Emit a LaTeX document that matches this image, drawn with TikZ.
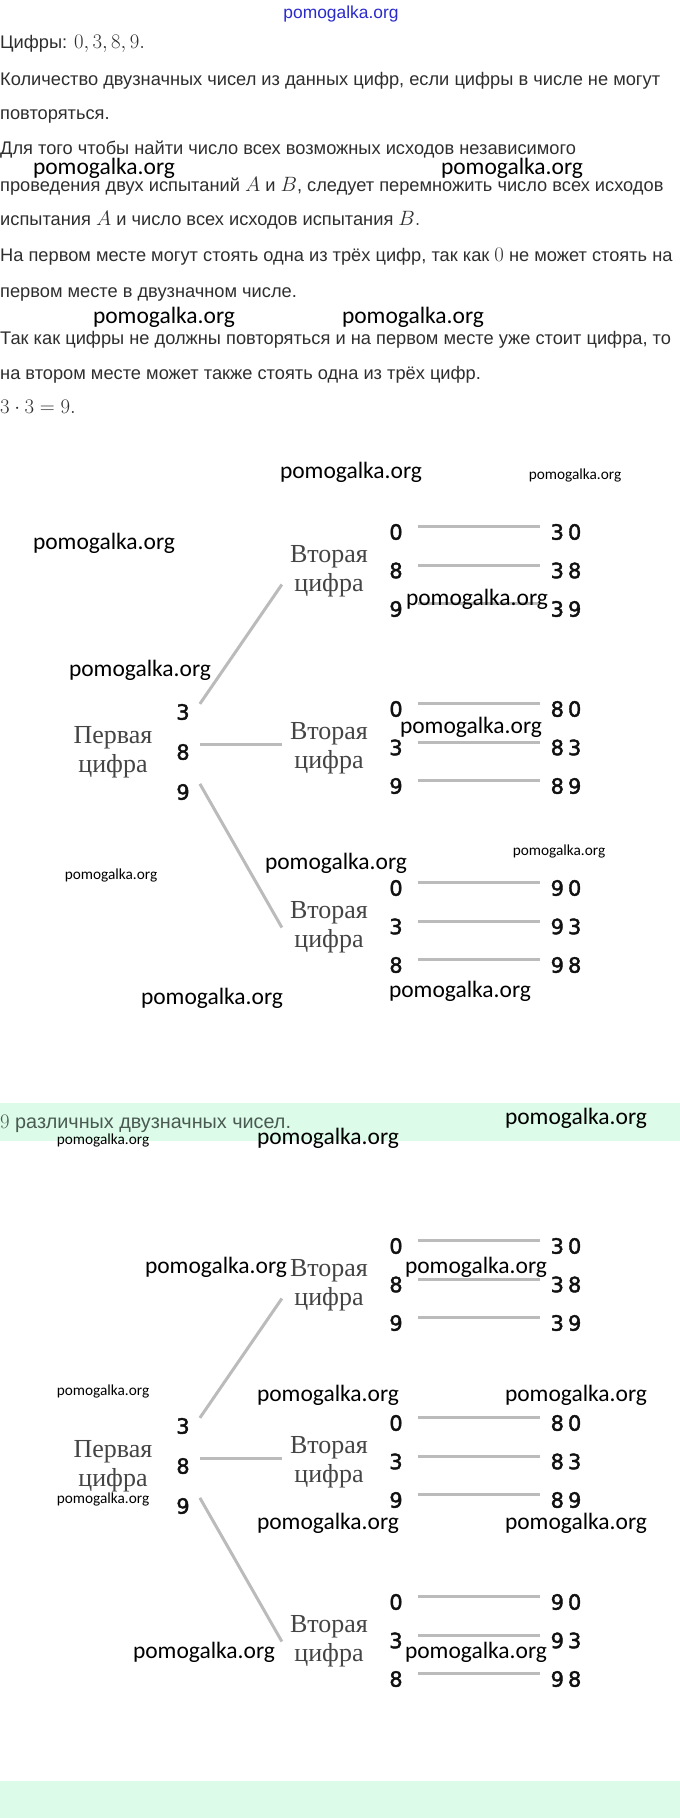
\documentclass[tikz,border=0pt]{standalone}
\usepackage{fontspec}
\setmainfont{Liberation Sans}
\newfontfamily\digitfont[FakeBold=2]{DejaVu Sans}
\newfontfamily\wmfont{Carlito}
\newfontfamily\levelfont{Liberation Serif}
\usetikzlibrary{positioning, calc}

\definecolor{bodygray}{HTML}{2E2E2E}
\definecolor{bandtext}{HTML}{4A5A52}
\definecolor{bandfill}{HTML}{DCFCE9}
\definecolor{linegray}{HTML}{BBBBBB}
\definecolor{labelgray}{HTML}{444444}
\definecolor{digitblack}{HTML}{111111}
\definecolor{wmblue}{HTML}{2A2ACC}

\newcommand{\mth}[1]{{\fontsize{21.8}{24}\selectfont$#1$}}

\tikzset{
  textline/.style = {anchor = base west, inner sep = 0pt, text = bodygray, font = \fontsize{18.25}{22}\selectfont},
  wmark/.style = {inner sep = 0pt, font = \wmfont\fontsize{23.5}{26}\selectfont},
  wmarksmall/.style = {inner sep = 0pt, font = \wmfont\fontsize{15.3}{17}\selectfont},
  digit/.style = {inner sep = 0pt, text = digitblack, font = \digitfont\fontsize{21}{24}\selectfont},
  level/.style = {inner sep = 0pt, align = center, text = labelgray, font = \levelfont\fontsize{26}{29}\selectfont},
  branch/.style = {draw = linegray, line width = 3pt},
}

\begin{document}
\begin{tikzpicture}[x = 1pt, y = -1pt]
  \useasboundingbox (0, 0) rectangle (680, 1818);
  \fill [bandfill] (0, 1103) rectangle (680, 1141);
  \fill [bandfill] (0, 1781) rectangle (680, 1818);

  % solution text
  \node [textline] (t1) at (0, 48) {Цифры: \mth{0, 3, 8, 9.}};
  \node [textline] (t2) at (0, 85) {Количество двузначных чисел из данных цифр, если цифры в числе не могут};
  \node [textline] (t3) at (0, 119) {повторяться.};
  \node [textline] (t4) at (0, 154) {Для того чтобы найти число всех возможных исходов независимого};
  \node [textline] (t5) at (0, 191) {проведения двух испытаний \mth{A} и \mth{B}, следует перемножить число всех исходов};
  \node [textline] (t6) at (0, 225) {испытания \mth{A} и число всех исходов испытания \mth{B.}};
  \node [textline] (t7) at (0, 261) {На первом месте могут стоять одна из трёх цифр, так как \mth{0} не может стоять на};
  \node [textline] (t8) at (0, 297) {первом месте в двузначном числе.};
  \node [textline] (t9) at (0, 344) {Так как цифры не должны повторяться и на первом месте уже стоит цифра, то};
  \node [textline] (t10) at (0, 379) {на втором месте может также стоять одна из трёх цифр.};
  \node [textline] (t11) at (0, 413) {\mth{3\cdot 3=9.}};
  \node [textline, text = bandtext, font = \fontsize{19.8}{22}\selectfont] (answer) at (0, 1128) {\mth{9} различных двузначных чисел.};

  % two copies of the tree
  \foreach \oy/\dg in {0/a, 714/b} {
    \node [level] (first\dg) at (113, 752+\oy) {Первая\\цифра};
    \node [digit] (f3\dg) at (183, 712+\oy) {3};
    \node [digit] (f8\dg) at (183, 752+\oy) {8};
    \node [digit] (f9\dg) at (183, 792+\oy) {9};
    \foreach \f/\list/\top in {3/{0,8,9}/532, 8/{0,3,9}/709, 9/{0,3,8}/888} {
      \node [level] (s\f\dg) at (329, {\top+39.5+\oy}) {Вторая\\цифра};
      \foreach \s [count = \i] in \list {
        \node [digit] (d\f\s\dg) at (396, {\top+38.5*(\i-1)+\oy}) {\s};
        \node [digit] (r\f\s\dg) at (566, {\top+38.5*(\i-1)+\oy}) {\f\hspace{4pt}\s};
        \draw [branch] ([xshift = 15pt, yshift = 5.5pt]d\f\s\dg.east) -- ([xshift = -10pt, yshift = 5.5pt]r\f\s\dg.west);
      }
    }
    \draw [branch] ([xshift = 10pt]f3\dg.north east) -- ([xshift = -8pt, yshift = -13pt]s3\dg.west);
    \draw [branch] ([xshift = 10pt, yshift = 8pt]f8\dg.east) -- ([xshift = -8pt, yshift = 4.5pt]s8\dg.west);
    \draw [branch] ([xshift = 10pt]f9\dg.north east) -- ([xshift = -8pt]s9\dg.west);
  }

  % watermarks
  \node [text = wmblue, inner sep = 0pt, font = \fontsize{17.4}{20}\selectfont] (wtop) at (341, 14) {pomogalka.org};
  \foreach \wx/\wy [count = \n] in {104/168, 512/168, 164/317, 413/317, 351/472, 104/543, 477/599, 140/670,
      471/727, 336/863, 212/998, 460/991, 576/1118, 328/1138, 216/1267, 476/1267, 328/1395, 576/1395,
      328/1523, 576/1523, 204/1652, 476/1652}
    \node [wmark] (w\n) at (\wx, \wy) {pomogalka.org};
  \foreach \wx/\wy [count = \n] in {575/475, 559/851, 111/875, 103/1140, 103/1391, 103/1499}
    \node [wmarksmall] (ws\n) at (\wx, \wy) {pomogalka.org};
\end{tikzpicture}
\end{document}
